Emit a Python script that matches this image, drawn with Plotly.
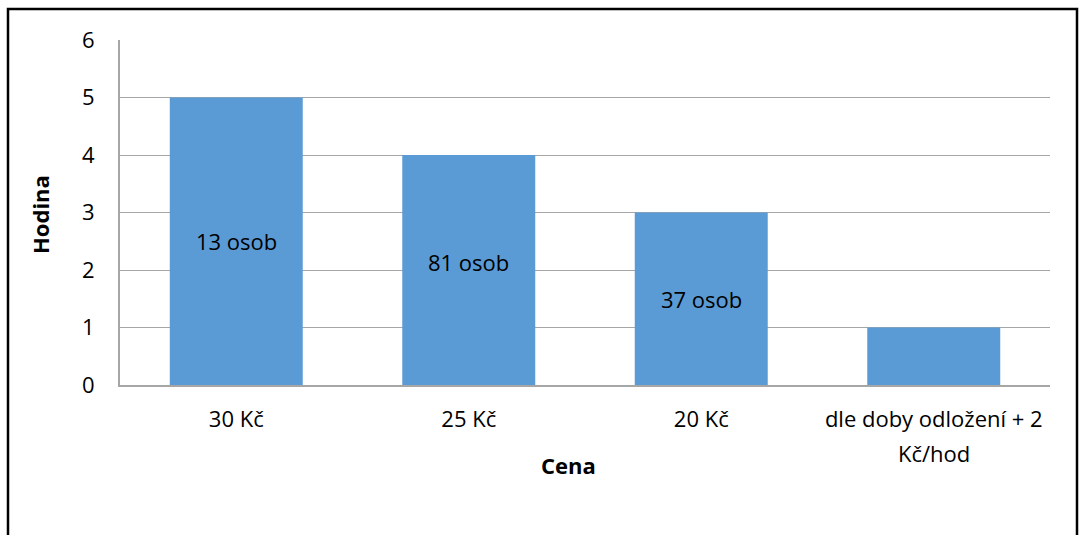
import plotly.graph_objects as go

# Price categories and hours
categories = ["30 Kč", "25 Kč", "20 Kč", "dle doby odložení + 2"]
category_second_line = ["", "", "", "Kč/hod"]
hours = [5, 4, 3, 1]
bar_labels = ["13 osob", "81 osob", "37 osob", ""]
label_shift = [0, 8, 0, 0]

W, H = 1080, 535
L, R, T, B = 120, 30, 40, 150
FONT = "Open Sans, sans-serif"
FS = 22

fig = go.Figure()
fig.add_trace(go.Bar(
    x=categories,
    y=hours,
    marker=dict(color="#5b9bd5", line=dict(width=0)),
    width=0.572,
    hoverinfo="skip",
))

# In-bar text labels centred on each bar
for cat, val, lab, sh in zip(categories, hours, bar_labels, label_shift):
    if lab:
        fig.add_annotation(x=cat, y=val / 2, text=lab, showarrow=False,
                           xref="x", yref="y", yshift=sh,
                           xanchor="center", yanchor="middle",
                           font=dict(family=FONT, size=FS, color="#000000"))

pw, ph = W - L - R, H - T - B

# Second line of the wrapped category label
for cat, extra in zip(categories, category_second_line):
    if extra:
        fig.add_annotation(x=cat, y=(H - B - 453) / ph, xref="x", yref="paper",
                           text=extra, showarrow=False,
                           xanchor="center", yanchor="middle",
                           font=dict(family=FONT, size=FS, color="#000000"))

# Axis titles
fig.add_annotation(x=(568 - L) / pw, y=(H - B - 465) / ph,
                   xref="paper", yref="paper", text="<b>Cena</b>", showarrow=False,
                   xanchor="center", yanchor="middle",
                   font=dict(family=FONT, size=FS, color="#000000"))
fig.add_annotation(x=(40 - L) / pw, y=(H - B - 215) / ph,
                   xref="paper", yref="paper", text="<b>Hodina</b>", showarrow=False,
                   textangle=-90, xanchor="center", yanchor="middle",
                   font=dict(family=FONT, size=FS, color="#000000"))

# Outer chart frame
fig.add_shape(type="rect", xref="paper", yref="paper",
              x0=(8 - L) / pw, x1=(1077 - L) / pw,
              y0=(H - B - 560) / ph, y1=(H - B - 9) / ph,
              line=dict(color="#000000", width=2.5), fillcolor="rgba(0,0,0,0)",
              layer="below")

fig.update_layout(
    width=W, height=H,
    margin=dict(l=L, r=R, t=T, b=B),
    paper_bgcolor="white", plot_bgcolor="white",
    showlegend=False,
    bargap=0.428,
    font=dict(family=FONT, size=FS, color="#000000"),
    xaxis=dict(
        showgrid=False, showline=True, linecolor="#a6a6a6", linewidth=1.5,
        ticks="", tickfont=dict(family=FONT, size=FS, color="#000000"),
        ticklabelstandoff=14,
    ),
    yaxis=dict(
        range=[0, 6], dtick=1, showgrid=True, gridcolor="#a6a6a6", gridwidth=1,
        showline=True, linecolor="#a6a6a6", linewidth=2,
        ticks="", zeroline=False,
        tickfont=dict(family=FONT, size=FS, color="#000000"),
        ticklabelstandoff=19,
    ),
)

fig.write_html("out.html")
